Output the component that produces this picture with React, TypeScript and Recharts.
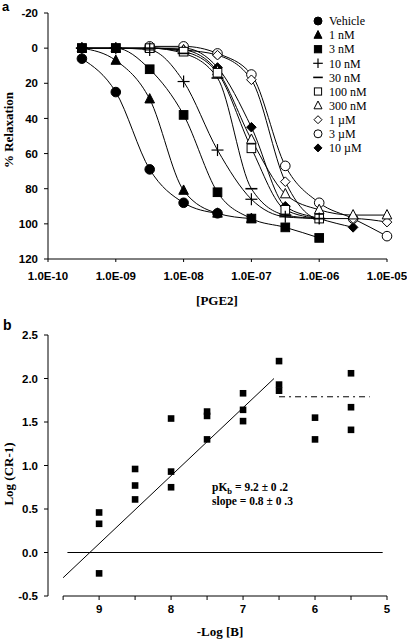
import React from 'react';
import {
  ComposedChart,
  Line,
  Scatter,
  XAxis,
  YAxis,
  Legend,
  ReferenceLine,
} from 'recharts';

// panel a: log10 [PGE2] (M) and % relaxation for each antagonist concentration
const logConc = [-9.5, -9, -8.5, -8, -7.5, -7, -6.5, -6, -5.5, -5];
const vehicle = [6, 25, 69, 88, 94, null, null, null, null, null];
const nm1 = [0, 7, 29, 81, 94, 97, null, null, null, null];
const nm3 = [0, 0, 12, 38, 82, 97, 102, 108, null, null];
const nm10 = [0, 0, 1, 19, 58, 86, 96, 97, null, null];
const nm30 = [0, 0, 0, 3, 17, 80, 95, 97, null, null];
const nm100 = [0, 0, 0, 2, 14, 57, 92, 97, null, null];
const nm300 = [null, 0, 0, 1, 13, 52, 83, 92, 95, 95];
const um1 = [null, null, 0, 1, 4, 18, 76, 97, 97, 99];
const um3 = [null, null, -1, -1, 3, 15, 67, 88, 97, 107];
const um10 = [null, null, 0, 0, 11, 45, 90, 97, 102, null];

const aXTicks = [-10, -9, -8, -7, -6, -5];
const aYTicks = [-20, 0, 20, 40, 60, 80, 100, 120];

// panel b: Schild plot
const bX = [9, 9, 9, 8.5, 8.5, 8.5, 8, 8, 8, 7.5, 7.5, 7.5, 7, 7, 7, 6.5, 6.5, 6.5, 6, 6, 5.5, 5.5, 5.5];
const bY = [0.46, 0.33, -0.24, 0.96, 0.77, 0.61, 1.54, 0.93, 0.75, 1.62, 1.57, 1.3, 1.83, 1.64, 1.51, 2.2, 1.93, 1.86, 1.55, 1.3, 2.06, 1.67, 1.41];
const fitX = [9.5, 6.57];
const fitY = [-0.29, 2.0];
const plateauX = [6.5, 5.24];
const plateauY = 1.79;
const zeroX = [9.44, 5.06];
const bXTicks = [9.5, 9, 8.5, 8, 7.5, 7, 6.5, 6, 5.5, 5];
const bYTicks = [-0.5, 0, 0.5, 1, 1.5, 2, 2.5];

type Kind =
  | 'circleF' | 'triF' | 'squareF' | 'plus' | 'dash'
  | 'squareO' | 'triO' | 'diamondO' | 'circleO' | 'diamondF';

const seriesA: { name: string; kind: Kind; values: (number | null)[] }[] = [
  { name: 'Vehicle', kind: 'circleF', values: vehicle },
  { name: '1 nM', kind: 'triF', values: nm1 },
  { name: '3 nM', kind: 'squareF', values: nm3 },
  { name: '10 nM', kind: 'plus', values: nm10 },
  { name: '30 nM', kind: 'dash', values: nm30 },
  { name: '100 nM', kind: 'squareO', values: nm100 },
  { name: '300 nM', kind: 'triO', values: nm300 },
  { name: '1 µM', kind: 'diamondO', values: um1 },
  { name: '3 µM', kind: 'circleO', values: um3 },
  { name: '10 µM', kind: 'diamondF', values: um10 },
];

const toPoints = (vals: (number | null)[]) =>
  logConc
    .map((x, i) => ({ x, y: vals[i] }))
    .filter((p) => p.y !== null);

const Marker = ({ kind, cx, cy, s }: { kind: Kind; cx: number; cy: number; s: number }) => {
  const filled = kind.endsWith('F');
  const fill = filled ? '#000' : '#fff';
  const sw = 1;
  switch (kind) {
    case 'circleF':
    case 'circleO':
      return <circle cx={cx} cy={cy} r={s} fill={fill} stroke="#000" strokeWidth={sw} />;
    case 'triF':
    case 'triO':
      return (
        <polygon
          points={`${cx},${cy - s * 1.15} ${cx - s},${cy + s * 0.8} ${cx + s},${cy + s * 0.8}`}
          fill={fill}
          stroke="#000"
          strokeWidth={sw}
        />
      );
    case 'squareF':
    case 'squareO':
      return (
        <rect x={cx - s * 0.9} y={cy - s * 0.9} width={s * 1.8} height={s * 1.8} fill={fill} stroke="#000" strokeWidth={sw} />
      );
    case 'diamondF':
    case 'diamondO':
      return (
        <polygon
          points={`${cx},${cy - s} ${cx + s},${cy} ${cx},${cy + s} ${cx - s},${cy}`}
          fill={fill}
          stroke="#000"
          strokeWidth={sw}
        />
      );
    case 'plus':
      return (
        <g stroke="#000" strokeWidth={1.2}>
          <line x1={cx - s * 1.2} y1={cy} x2={cx + s * 1.2} y2={cy} />
          <line x1={cx} y1={cy - s * 1.2} x2={cx} y2={cy + s * 1.2} />
        </g>
      );
    case 'dash':
      return <line x1={cx - s * 1.2} y1={cy} x2={cx + s * 1.2} y2={cy} stroke="#000" strokeWidth={1.6} />;
  }
  return null;
};

const tickStyle = {
  fontFamily: '"Liberation Sans", Arial, sans-serif',
  fontSize: 11.5,
  fontWeight: 'bold' as const,
  fill: '#000',
};

const serif = '"Liberation Serif", "Times New Roman", serif';

const LegendBox = () => (
  <svg width={90} height={150}>
    {seriesA.map((s, i) => {
      const y = 9 + i * 14.1;
      return (
        <g key={s.name}>
          <Marker kind={s.kind} cx={7} cy={y} s={4} />
          <text x={18} y={y} dy="0.35em" fontFamily={serif} fontSize={12} fill="#000">
            {s.name}
          </text>
        </g>
      );
    })}
  </svg>
);

const fmtE = (v: number) => `1.0E-${String(Math.round(-v)).padStart(2, '0')}`;

// draw markers of the high concentrations first so the filled low ones sit on top
const scatterOrder = [...seriesA].reverse();

const App = () => {
  return (
    <div style={{ position: 'absolute', left: 0, top: 0, width: 407, height: 639, background: '#fff' }}>
      <div style={{ position: 'absolute', left: 0, top: 0 }}>
        <ComposedChart width={407} height={300} margin={{ top: 13, right: 20, bottom: 0, left: 0 }}>
          <XAxis
            type="number"
            dataKey="x"
            domain={[-10, -5]}
            ticks={aXTicks}
            tickFormatter={fmtE}
            tick={tickStyle}
            tickSize={3}
            tickMargin={10}
            height={41}
            stroke="#000"
            allowDuplicatedCategory={false}
          />
          <YAxis
            type="number"
            domain={[-20, 120]}
            ticks={aYTicks}
            reversed
            tick={tickStyle}
            tickSize={4}
            tickMargin={6}
            width={48}
            stroke="#000"
          />
          {seriesA.map((s) => (
            <Line
              key={'l' + s.name}
              data={toPoints(s.values)}
              dataKey="y"
              type="monotone"
              stroke="#000"
              strokeWidth={1}
              dot={false}
              activeDot={false}
              legendType="none"
              isAnimationActive={false}
            />
          ))}
          {scatterOrder.map((s) => (
            <Scatter
              key={'s' + s.name}
              name={s.name}
              data={toPoints(s.values)}
              dataKey="y"
              shape={(p: any) => <Marker kind={s.kind} cx={p.cx} cy={p.cy} s={s.kind === 'plus' || s.kind === 'dash' ? 5 : 4.8} />}
              isAnimationActive={false}
            />
          ))}
          <Legend
            layout="vertical"
            align="center"
            verticalAlign="middle"
            content={() => <LegendBox />}
            wrapperStyle={{ position: 'absolute', top: 12, left: 311, width: 90 }}
          />
        </ComposedChart>
      </div>
      <div style={{ position: 'absolute', left: 0, top: 310 }}>
        <ComposedChart width={407} height={329} margin={{ top: 25, right: 20, bottom: 0, left: 0 }}>
          <XAxis
            type="number"
            dataKey="x"
            domain={[5, 9.71]}
            reversed
            allowDataOverflow
            ticks={bXTicks}
            tickFormatter={(v: number) => (Number.isInteger(v) ? String(v) : '')}
            tick={tickStyle}
            axisLine={false}
            tickSize={4}
            tickMargin={5}
            height={43}
            stroke="#000"
          />
          <YAxis
            type="number"
            domain={[-0.5, 2.5]}
            ticks={bYTicks}
            tickFormatter={(v: number) => v.toFixed(1)}
            tick={tickStyle}
            tickSize={4}
            tickMargin={6}
            width={48}
            stroke="#000"
          />
          <ReferenceLine
            segment={[{ x: 9.5, y: -0.5 }, { x: 5, y: -0.5 }]}
            stroke="#000"
            strokeWidth={1}
            ifOverflow="visible"
          />
          <ReferenceLine
            segment={[{ x: zeroX[0], y: 0 }, { x: zeroX[1], y: 0 }]}
            stroke="#000"
            strokeWidth={1}
          />
          <ReferenceLine
            segment={[{ x: plateauX[0], y: plateauY }, { x: plateauX[1], y: plateauY }]}
            stroke="#000"
            strokeWidth={1}
            strokeDasharray="6 4 2 4"
          />
          <Line
            data={fitX.map((x, i) => ({ x, y: fitY[i] }))}
            dataKey="y"
            type="linear"
            stroke="#000"
            strokeWidth={1}
            dot={false}
            activeDot={false}
            isAnimationActive={false}
          />
          <Scatter
            data={bX.map((x, i) => ({ x, y: bY[i] }))}
            dataKey="y"
            shape={(p: any) => <rect x={p.cx - 3.3} y={p.cy - 3.3} width={6.6} height={6.6} fill="#000" />}
            isAnimationActive={false}
          />
        </ComposedChart>
      </div>
      <svg
        width={407}
        height={639}
        style={{ position: 'absolute', left: 0, top: 0, pointerEvents: 'none' }}
      >
        <text x={2} y={11} fontFamily='"Liberation Sans", Arial, sans-serif' fontWeight="bold" fontSize={13}>a</text>
        <text x={3} y={330} fontFamily='"Liberation Sans", Arial, sans-serif' fontWeight="bold" fontSize={14}>b</text>
        <text
          x={13}
          y={130}
          transform="rotate(-90 13 130)"
          textAnchor="middle"
          fontFamily={serif}
          fontWeight="bold"
          fontSize={13}
        >
          % Relaxation
        </text>
        <text
          x={13}
          y={474}
          transform="rotate(-90 13 474)"
          textAnchor="middle"
          fontFamily={serif}
          fontWeight="bold"
          fontSize={13}
        >
          Log (CR-1)
        </text>
        <text x={217} y={305} textAnchor="middle" fontFamily={serif} fontWeight="bold" fontSize={13}>[PGE2]</text>
        <text x={220} y={636} textAnchor="middle" fontFamily={serif} fontWeight="bold" fontSize={13}>-Log [B]</text>
        <text x={212} y={491} fontFamily={serif} fontWeight="bold" fontSize={11.5}>
          pK<tspan fontSize={8.5} dy={3}>b</tspan>
          <tspan dy={-3}> = 9.2 ± 0 .2</tspan>
        </text>
        <text x={212} y={505} fontFamily={serif} fontWeight="bold" fontSize={11.5}>slope = 0.8 ± 0 .3</text>
      </svg>
    </div>
  );
};

export default App;
